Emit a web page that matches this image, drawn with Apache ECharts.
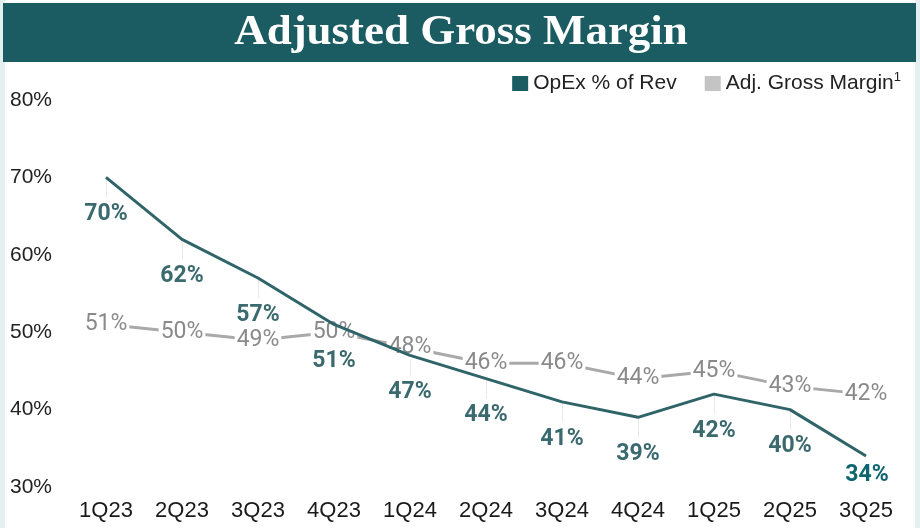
<!DOCTYPE html>
<html>
<head>
<meta charset="utf-8">
<script src="https://cdn.jsdelivr.net/npm/echarts@6/dist/echarts.min.js"></script>
<style>
  html, body { margin: 0; padding: 0; background: #e4f0f0; }
  #main { width: 920px; height: 528px; }
</style>
</head>
<body>
<div id="main"></div>
<script>
var quarters = ["1Q23", "2Q23", "3Q23", "4Q23", "1Q24", "2Q24", "3Q24", "4Q24", "1Q25", "2Q25", "3Q25"];
var opexPct = [70, 62, 57, 51, 47, 44, 41, 39, 42, 40, 34];
var grossMargin = [51, 50, 49, 50, 48, 46, 46, 44, 45, 43, 42];
var yTicks = [30, 40, 50, 60, 70, 80];

var teal = "#2f6468";
var gray = "#a9a9a9";
var last = opexPct.length - 1;

// faint leader lines from each OpEx point down toward its label
var leaders = opexPct.slice(0, last).map(function (v, i) {
  return [{ coord: [i, v] }, { coord: [i, v - 2.6] }];
});

var myChart = echarts.init(document.getElementById("main"));

myChart.setOption({
  backgroundColor: "#e4f0f0",
  animation: false,
  graphic: [
    // white panel
    { type: "rect", left: 5, top: 0, shape: { width: 910, height: 528 }, style: { fill: "#fff" }, z: -10 },
    // title bar
    { type: "rect", left: 3, top: 3, shape: { width: 913, height: 59 }, style: { fill: "#1b5c63" }, z: -5 },
    {
      type: "text", x: 461, y: 33, scaleX: 1.07,
      style: {
        text: "Adjusted Gross Margin", fill: "#fff",
        font: "bold 42px 'Liberation Serif', serif",
        align: "center", verticalAlign: "middle"
      }
    }
  ],
  legend: {
    right: 14,
    top: 66,
    itemWidth: 16,
    itemHeight: 15,
    itemGap: 28,
    icon: "rect",
    textStyle: {
      fontFamily: "Liberation Sans",
      fontSize: 21,
      color: "#222",
      rich: { sup: { fontSize: 13, verticalAlign: "top", padding: [0, 0, 12, 0], color: "#222" } }
    },
    formatter: function (name) {
      return name === "Adj. Gross Margin" ? name + "{sup|1}" : name;
    },
    data: [
      { name: "OpEx % of Rev", itemStyle: { color: "#1b5c63" } },
      { name: "Adj. Gross Margin", itemStyle: { color: "#c4c4c4" } }
    ]
  },
  grid: { left: 68, right: 16, top: 100, bottom: 41 },
  xAxis: {
    type: "category",
    data: quarters,
    boundaryGap: true,
    axisLine: { show: false },
    axisTick: { show: false },
    axisLabel: { fontFamily: "Liberation Sans", fontSize: 22, color: "#1a1a1a", margin: 13 }
  },
  yAxis: {
    type: "value",
    min: yTicks[0],
    max: yTicks[yTicks.length - 1],
    interval: 10,
    splitLine: { show: false },
    axisLabel: {
      fontFamily: "Liberation Sans", fontSize: 21, color: "#222",
      align: "left", margin: 58,
      formatter: "{value}%"
    }
  },
  series: [
    {
      name: "Adj. Gross Margin",
      type: "line",
      data: grossMargin,
      symbol: "circle",
      symbolSize: 0,
      showSymbol: true,
      z: 2,
      lineStyle: { color: gray, width: 3 },
      itemStyle: { color: gray },
      label: {
        show: true,
        position: "inside",
        formatter: "{c}%",
        fontFamily: "Roboto",
        fontSize: 23,
        color: "#8a8a8a",
        backgroundColor: "#fff",
        padding: [0, 2]
      }
    },
    {
      name: "OpEx % of Rev",
      type: "line",
      data: opexPct.map(function (v, i) {
        return i === last ? { value: v, label: { color: "#0f6670" } } : v;
      }),
      symbol: "circle",
      symbolSize: 0,
      showSymbol: true,
      z: 3,
      lineStyle: { color: teal, width: 3 },
      itemStyle: { color: teal },
      label: {
        show: true,
        position: "inside",
        formatter: "{c}%",
        fontFamily: "Roboto",
        fontWeight: "bold",
        fontSize: 23,
        color: "#3b6a6e"
      },
      labelLayout: function (params) {
        return params.dataIndex === last ? { dy: 19, dx: 1 } : { dy: 37 };
      },
      markLine: {
        silent: true,
        symbol: "none",
        z: 1,
        label: { show: false },
        lineStyle: { color: "#e8e8e8", width: 1, type: "solid" },
        data: leaders
      }
    }
  ]
});
</script>
</body>
</html>
